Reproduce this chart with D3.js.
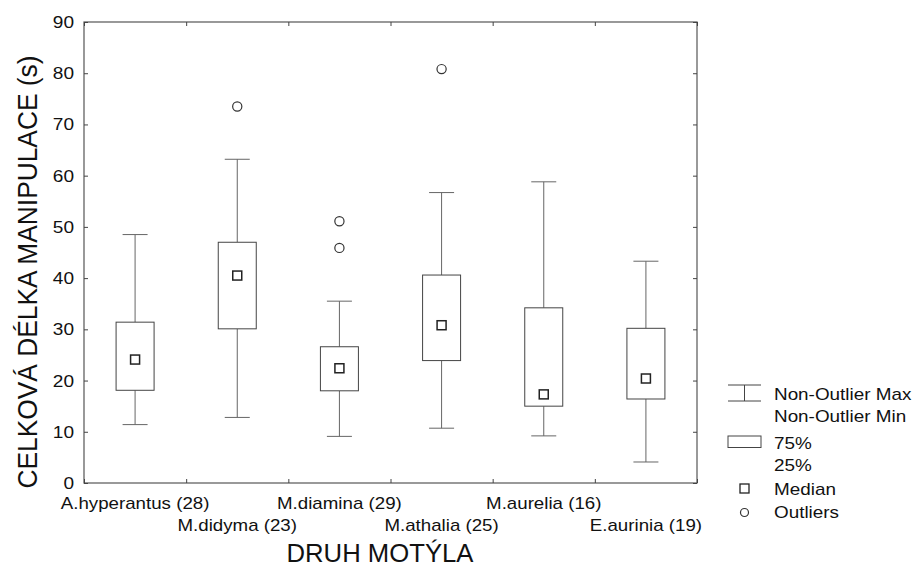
<!DOCTYPE html>
<html>
<head>
<meta charset="utf-8">
<script src="https://cdn.jsdelivr.net/npm/d3@7"></script>
<style>
  body { margin: 0; background: #fff; }
  svg { display: block; font-family: "Liberation Sans", Arial, sans-serif; }
</style>
</head>
<body>
<div id="chart"></div>
<script>
// data
let categories = ["A.hyperantus", "M.didyma", "M.diamina", "M.athalia", "M.aurelia", "E.aurinia"];
let counts = [28, 23, 29, 25, 16, 19];
let whiskerMax = [48.5, 63.2, 35.5, 56.7, 58.8, 43.3];
let q3 = [31.4, 47.0, 26.6, 40.6, 34.2, 30.2];
let medians = [24.1, 40.5, 22.4, 30.8, 17.3, 20.4];
let q1 = [18.1, 30.1, 18.0, 23.9, 15.0, 16.4];
let whiskerMin = [11.4, 12.8, 9.1, 10.7, 9.2, 4.1];
let outliers = [[], [73.5], [51.1, 45.9], [80.8], [], []];
let yTicks = [0, 10, 20, 30, 40, 50, 60, 70, 80, 90];
let legendTexts = ["Non-Outlier Max", "Non-Outlier Min", "75%", "25%", "Median", "Outliers"];

let margin = { top: 22, left: 84, right: 215, bottom: 87 },
  W = 912, H = 570,
  width = W - margin.left - margin.right,
  height = H - margin.top - margin.bottom;

let svg = d3.select("#chart").append("svg")
  .attr("width", W).attr("height", H);

let g = svg.append("g").attr("transform", "translate(" + margin.left + "," + margin.top + ")");

let x = d3.scaleBand().domain(categories).range([0, width]).padding(0);
let xi = d3.scaleLinear().domain([0, categories.length]).range([0, width]); // band boundaries
let y = d3.scaleLinear().domain([0, 90]).range([height, 0]);

let boxW = 38, capW = 25;
let stroke = "#444", whiskerStroke = "#666";

// the original font is a bit wider than Liberation Sans, stretch small labels
function widen(sel, k) {
  sel.each(function () {
    let len = this.getComputedTextLength();
    d3.select(this).attr("textLength", len * k).attr("lengthAdjust", "spacingAndGlyphs");
  });
}

// frame
g.append("rect").attr("x", 0).attr("y", 0).attr("width", width).attr("height", height)
  .attr("fill", "none").attr("stroke", "#555").attr("stroke-width", 1.2);

// axes, ticks pointing inward
let yAx = g.append("g").call(d3.axisLeft(y).tickValues(yTicks).tickSizeInner(-4).tickSizeOuter(0).tickPadding(10));
g.append("g").attr("transform", "translate(" + width + ",0)")
  .call(d3.axisRight(y).tickValues(yTicks).tickSizeInner(-4).tickSizeOuter(0).tickFormat(""));
g.append("g").attr("transform", "translate(0," + height + ")")
  .call(d3.axisBottom(xi).ticks(categories.length).tickSizeInner(-4).tickSizeOuter(0).tickFormat(""));
g.append("g")
  .call(d3.axisTop(xi).ticks(categories.length).tickSizeInner(-4).tickSizeOuter(0).tickFormat(""));
g.selectAll(".domain").remove();
g.selectAll(".tick line").attr("stroke", "#444");
yAx.selectAll("text").attr("font-size", 17).attr("fill", "#111")
  .attr("font-family", "Liberation Sans, Arial, sans-serif").call(widen, 1.12);

// category labels in two rows
g.selectAll(".xlab").data(categories).enter().append("text")
  .attr("class", "xlab")
  .attr("x", d => x(d) + x.bandwidth() / 2)
  .attr("y", (d, i) => height + (i % 2 === 0 ? 20 : 42))
  .attr("text-anchor", "middle").attr("dominant-baseline", "central")
  .attr("font-size", 17).attr("fill", "#111")
  .text((d, i) => d + " (" + counts[i] + ")")
  .call(widen, 1.1);

// boxes
let boxes = g.selectAll(".box").data(categories).enter().append("g")
  .attr("class", "box")
  .attr("transform", d => "translate(" + (x(d) + x.bandwidth() / 2) + ",0)");

boxes.append("line").attr("x1", 0).attr("x2", 0)
  .attr("y1", (d, i) => y(whiskerMax[i])).attr("y2", (d, i) => y(q3[i]))
  .attr("stroke", whiskerStroke);
boxes.append("line").attr("x1", 0).attr("x2", 0)
  .attr("y1", (d, i) => y(q1[i])).attr("y2", (d, i) => y(whiskerMin[i]))
  .attr("stroke", whiskerStroke);
boxes.append("line").attr("x1", -capW / 2).attr("x2", capW / 2)
  .attr("y1", (d, i) => y(whiskerMax[i])).attr("y2", (d, i) => y(whiskerMax[i]))
  .attr("stroke", whiskerStroke);
boxes.append("line").attr("x1", -capW / 2).attr("x2", capW / 2)
  .attr("y1", (d, i) => y(whiskerMin[i])).attr("y2", (d, i) => y(whiskerMin[i]))
  .attr("stroke", whiskerStroke);
boxes.append("rect").attr("x", -boxW / 2).attr("width", boxW)
  .attr("y", (d, i) => y(q3[i])).attr("height", (d, i) => y(q1[i]) - y(q3[i]))
  .attr("fill", "#fff").attr("stroke", stroke);
boxes.append("rect").attr("x", -4.5).attr("width", 9)
  .attr("y", (d, i) => y(medians[i]) - 4.5).attr("height", 9)
  .attr("fill", "#fff").attr("stroke", "#222").attr("stroke-width", 1.5);
boxes.each(function (d, i) {
  d3.select(this).selectAll("circle").data(outliers[i]).enter().append("circle")
    .attr("cx", 0).attr("cy", v => y(v)).attr("r", 4.6)
    .attr("fill", "none").attr("stroke", "#333").attr("stroke-width", 1.2);
});

// axis titles
svg.append("text")
  .attr("transform", "translate(37,272) rotate(-90)")
  .attr("text-anchor", "middle")
  .attr("font-size", 28).attr("fill", "#111")
  .attr("textLength", 433).attr("lengthAdjust", "spacingAndGlyphs")
  .text("CELKOVÁ DÉLKA MANIPULACE (s)");
svg.append("text")
  .attr("x", 380).attr("y", 562)
  .attr("text-anchor", "middle")
  .attr("font-size", 25).attr("fill", "#111")
  .attr("textLength", 187).attr("lengthAdjust", "spacingAndGlyphs")
  .text("DRUH MOTÝLA");

// legend
let lg = svg.append("g").attr("transform", "translate(728,385)");
let lgStroke = "#444";
lg.append("line").attr("x1", 0).attr("x2", 33).attr("y1", 0).attr("y2", 0).attr("stroke", lgStroke);
lg.append("line").attr("x1", 16.5).attr("x2", 16.5).attr("y1", 0).attr("y2", 16).attr("stroke", lgStroke);
lg.append("line").attr("x1", 0).attr("x2", 33).attr("y1", 16).attr("y2", 16).attr("stroke", lgStroke);
lg.append("rect").attr("x", 0).attr("y", 51).attr("width", 33).attr("height", 11.5)
  .attr("fill", "#fff").attr("stroke", lgStroke);
lg.append("rect").attr("x", 12).attr("y", 99).attr("width", 9).attr("height", 9)
  .attr("fill", "#fff").attr("stroke", "#222").attr("stroke-width", 1.3);
lg.append("circle").attr("cx", 16.5).attr("cy", 127.5).attr("r", 4)
  .attr("fill", "none").attr("stroke", "#333").attr("stroke-width", 1.2);

let legendY = [9, 31, 58, 80, 104, 127];
lg.selectAll(".lt").data(legendTexts).enter().append("text")
  .attr("class", "lt")
  .attr("x", 46).attr("y", (d, i) => legendY[i])
  .attr("dominant-baseline", "central")
  .attr("font-size", 17).attr("fill", "#111")
  .text(d => d)
  .call(widen, 1.11);
</script>
</body>
</html>
